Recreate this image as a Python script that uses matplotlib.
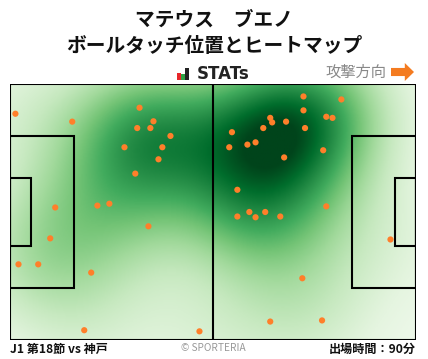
import numpy as np
import matplotlib.pyplot as plt
from matplotlib.patches import Rectangle, FancyArrow

plt.rcParams['font.family'] = ['Noto Sans CJK JP', 'DejaVu Sans']

# ball touch positions (pitch metres, 105 x 68, attacking to the right)
touch_x = [1.4, 16.1, 33.5, 37.1, 32.9, 36.3, 41.5, 29.6, 39.4, 38.4, 32.4,
           11.7, 22.6, 25.7, 35.8, 10.4, 2.2, 7.3, 21.0, 19.2, 49.0,
           75.9, 85.7, 67.3, 75.9, 81.8, 83.4, 67.8, 71.4, 65.5, 76.3,
           57.4, 63.5, 61.4, 56.7, 81.0, 70.9, 58.8, 81.8, 61.9, 66.0,
           58.8, 63.5, 69.9, 98.4, 75.6, 67.3, 80.7]
touch_y = [60.1, 58.0, 61.7, 58.1, 56.3, 56.3, 54.2, 51.2, 51.2, 48.0, 44.2,
           35.2, 35.7, 36.2, 30.2, 27.0, 20.1, 20.1, 17.9, 2.6, 2.3,
           64.7, 63.9, 59.0, 61.0, 59.3, 59.0, 57.8, 58.0, 56.3, 56.3,
           55.2, 52.5, 51.9, 51.2, 50.4, 48.5, 39.9, 35.5, 34.0, 34.0,
           32.8, 32.6, 32.8, 26.7, 16.4, 4.9, 5.2]

title_lines = ['マテウス　ブエノ', 'ボールタッチ位置とヒートマップ']
match_label = 'J1 第18節 vs 神戸'
minutes_label = '出場時間：90分'

fig = plt.figure(figsize=(4.28, 3.59), dpi=100)

# title block
fig.text(0.5, 1 - 20 / 359, title_lines[0], ha='center', va='center',
         fontsize=14.2, fontweight='bold', color='#111111')
fig.text(0.5, 1 - 46 / 359, title_lines[1], ha='center', va='center',
         fontsize=14.2, fontweight='bold', color='#111111')

# STATs logo
logo = fig.add_axes([177 / 428, 1 - 80 / 359, 12 / 428, 12 / 359])
logo.bar([0, 1, 2], [0.55, 0.5, 1.0], width=0.8,
         color=['#e8262a', '#2ea043', '#222222'])
logo.set_xlim(-0.45, 2.45)
logo.set_ylim(0, 1)
logo.axis('off')
fig.text(197 / 428, 1 - 74 / 359, 'STATs', ha='left', va='center',
         fontsize=12, fontweight='bold', color='#222222', family='DejaVu Sans')

fig.text(386 / 428, 1 - 72 / 359, '攻撃方向', ha='right', va='center',
         fontsize=11, color='#888888')
arr = fig.add_axes([391 / 428, 1 - 81 / 359, 23 / 428, 18 / 359])
arr.add_patch(FancyArrow(0.0, 0.5, 0.6, 0, width=0.45, head_width=1.0,
                         head_length=0.4, length_includes_head=False,
                         color='#f47b20', lw=0))
arr.set_xlim(0, 1)
arr.set_ylim(0, 1)
arr.axis('off')

# pitch
ax = fig.add_axes([10 / 428, 19 / 359, 406 / 428, 256 / 359])
L, W = 105.0, 68.0

gx, gy = np.meshgrid(np.linspace(0, L, 300), np.linspace(0, W, 200))
px = np.array(touch_x)
py = np.array(touch_y)
bw = 13.0
dens = np.zeros_like(gx)
for xx, yy in zip(px, py):
    dens += np.exp(-((gx - xx) ** 2 + (gy - yy) ** 2) / (2 * bw ** 2))
dens = dens / dens.max()
ax.imshow(dens, extent=[0, L, 0, W], origin='lower', cmap='Greens',
          vmin=-0.05, vmax=0.95, aspect='auto', interpolation='bilinear')

lc = 'black'
lw = 1.5
ax.add_patch(Rectangle((0, 0), L, W, fill=False, ec=lc, lw=lw))
ax.plot([L / 2, L / 2], [0, W], color=lc, lw=lw)
ax.add_patch(Rectangle((0, W / 2 - 20.16), 16.5, 40.32, fill=False, ec=lc, lw=lw))
ax.add_patch(Rectangle((0, W / 2 - 9.16), 5.5, 18.32, fill=False, ec=lc, lw=lw))
ax.add_patch(Rectangle((L - 16.5, W / 2 - 20.16), 16.5, 40.32, fill=False, ec=lc, lw=lw))
ax.add_patch(Rectangle((L - 5.5, W / 2 - 9.16), 5.5, 18.32, fill=False, ec=lc, lw=lw))

ax.scatter(px, py, s=20, color='#ff7f2a', edgecolors='none', zorder=5)
ax.set_xlim(0, L)
ax.set_ylim(0, W)
ax.axis('off')

# footer
fig.text(10 / 428, 1 - 349 / 359, match_label, ha='left', va='center',
         fontsize=8.7, fontweight='bold', color='#111111')
fig.text(213 / 428, 1 - 348 / 359, '© SPORTERIA', ha='center', va='center',
         fontsize=7.3, color='#999999')
fig.text(416 / 428, 1 - 349 / 359, minutes_label, ha='right', va='center',
         fontsize=8.7, fontweight='bold', color='#111111')

plt.savefig('out.png', dpi=100)
